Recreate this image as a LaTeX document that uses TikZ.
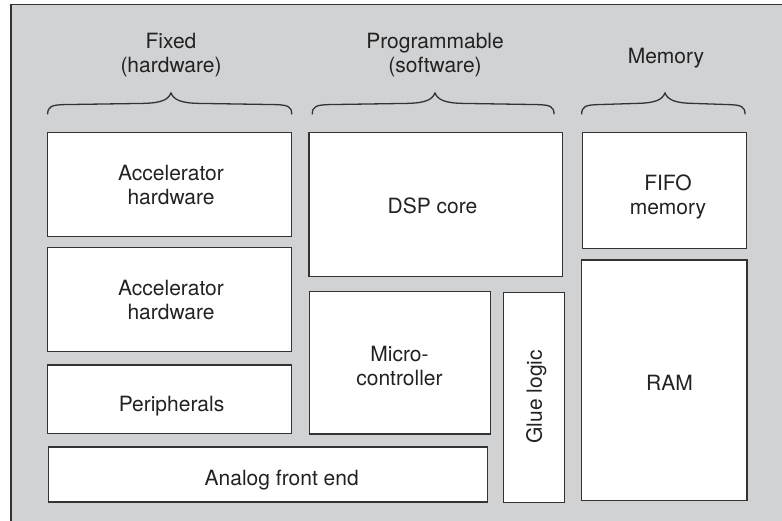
\documentclass[tikz,border=0pt]{standalone}
\usepackage{fontspec}
\setmainfont{TeX Gyre Heros}
\usetikzlibrary{fit}
\definecolor{panel}{HTML}{D1D2D4}
\definecolor{ink}{HTML}{333333}
\definecolor{txt}{HTML}{222222}
\begin{document}
\begin{tikzpicture}[x=1pt,y=-1pt,
  blk/.style={draw=ink, line width=1.5pt, fill=white, inner sep=0pt},
  lbl/.style={text=txt, font=\fontsize{21}{24}\selectfont, align=center, inner sep=0pt},
  brace/.style={draw=ink, line width=1.3pt, line cap=round}]
% canvas and the grey panel (its right and bottom edges run off the page)
\clip (0,0) rectangle (782,520);
\fill[white] (0,0) rectangle (782,520);
\draw[fill=panel, draw=ink, line width=1.7pt] (10.8,4.6) rectangle (800,540);

% curly brace from xl to xr with its tip at xm
\newcommand{\topbrace}[3]{%
  \draw[brace] (#1,114) .. controls (#1,106.5) and (#1+4,105) .. (#1+16,104.6)
    -- (#3-28,103.4) .. controls (#3-10,103) and (#3-3,100) .. (#3,93)
    .. controls (#3+3,100) and (#3+10,103) .. (#3+28,103.4)
    -- (#2-16,104.6) .. controls (#2-4,105) and (#2,106.5) .. (#2,114);}

% column headings
\node[lbl] (hfixed) at (171,54.9) {Fixed\\(hardware)};
\node[lbl] (hprog)  at (435,54.9) {Programmable\\(software)};
\node[lbl] (hmem)   at (666,58.6) {Memory};
\topbrace{47.7}{291.7}{171}
\topbrace{312.3}{554}{435}
\topbrace{581.7}{745}{665}

% fixed-function blocks
\node[blk, fit={(47.7,132.7)(291.7,236.7)}] (acc1) {};
\node[blk, fit={(47.7,247.7)(291.7,351.7)}] (acc2) {};
\node[blk, fit={(47.7,365)(291.7,433.5)}]   (periph) {};
\node[blk, fit={(48.3,447)(487.3,502)}]     (afe) {};
% programmable blocks
\node[blk, fit={(309,132.7)(562.3,276.7)}]  (dsp) {};
\node[blk, fit={(309.7,291.7)(490.3,434)}]  (mcu) {};
\node[blk, fit={(503.7,292.3)(564.7,502.3)}] (glue) {};
% memory blocks
\node[blk, fit={(582.7,132.7)(746.3,248.3)}] (fifo) {};
\node[blk, fit={(581.7,259.8)(747,500.7)}]   (ram) {};

% block labels
\node[lbl] (acc1t)   at (171,185.2)   {Accelerator\\hardware};
\node[lbl] (acc2t)   at (171,299.5)   {Accelerator\\hardware};
\node[lbl] (periphtx) at (171.5,406.3) {Peripherals};
\node[lbl] (afet)    at (281.7,480.3) {Analog front end};
\node[lbl] (dspt)    at (432.5,205.8) {DSP core};
\node[lbl] (mcut)    at (399.5,366.2) {Micro-\\controller};
\node[lbl, rotate=90] (gluet) at (536.2,396.7) {Glue logic};
\node[lbl] (fifot)   at (668,196.6)   {FIFO\\memory};
\node[lbl] (ramt)    at (669.5,382.5) {RAM};
\end{tikzpicture}
\end{document}
